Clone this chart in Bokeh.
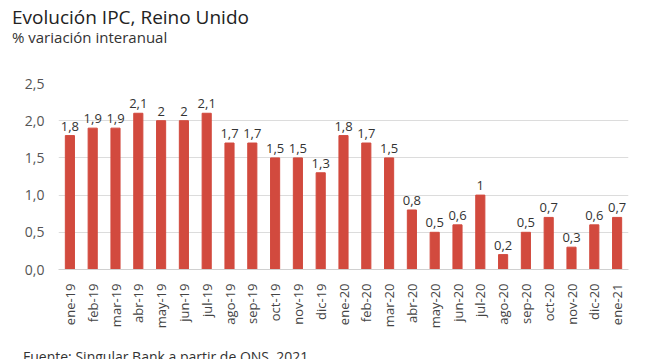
import math
from bokeh.plotting import figure
from bokeh.layouts import column
from bokeh.models import ColumnDataSource, LabelSet, FixedTicker, Range1d, FactorRange, Div
from bokeh.core.properties import value
from bokeh.embed import file_html
from bokeh.resources import INLINE

months = ["ene-19", "feb-19", "mar-19", "abr-19", "may-19", "jun-19", "jul-19", "ago-19",
          "sep-19", "oct-19", "nov-19", "dic-19", "ene-20", "feb-20", "mar-20", "abr-20",
          "may-20", "jun-20", "jul-20", "ago-20", "sep-20", "oct-20", "nov-20", "dic-20", "ene-21"]
values = [1.8, 1.9, 1.9, 2.1, 2.0, 2.0, 2.1, 1.7, 1.7, 1.5, 1.5, 1.3, 1.8, 1.7, 1.5, 0.8,
          0.5, 0.6, 1.0, 0.2, 0.5, 0.7, 0.3, 0.6, 0.7]
y_ticks = [0.0, 0.5, 1.0, 1.5, 2.0, 2.5]
y_tick_labels = ["0,0", "0,5", "1,0", "1,5", "2,0", "2,5"]
title_text = "Evolución IPC, Reino Unido"
subtitle_text = "% variación interanual"
source_text = "Fuente: Singular Bank a partir de ONS, 2021"


def fmt(v):
    return ("%g" % v).replace(".", ",")


FONT = "Open Sans"
BAR = "#d24a3e"
W = 642

# header with title and subtitle
head_html = (
    '<div style="position:relative;width:642px;height:45px;font-family:\'Open Sans\',sans-serif;">'
    '<div style="position:absolute;left:7px;top:-1px;font-size:19px;line-height:26px;'
    'color:#222222;white-space:nowrap;">' + title_text + '</div>'
    '<div style="position:absolute;left:7px;top:22px;font-size:15px;line-height:20px;'
    'color:#333333;white-space:nowrap;">' + subtitle_text + '</div>'
    '</div>'
)
head = Div(text=head_html, width=W, height=45)

# main chart
src = ColumnDataSource(dict(x=months, y=values, lab=[fmt(v) for v in values]))

p = figure(width=W, height=276, x_range=FactorRange(*months, range_padding=0),
           y_range=Range1d(0, 2.5), output_backend="svg", toolbar_location=None,
           min_border_left=58, min_border_right=14, min_border_top=28, min_border_bottom=62)
p.title = None
p.outline_line_color = None
p.background_fill_color = "white"
p.border_fill_color = "white"

p.vbar(x="x", top="y", width=0.4, source=src, color=BAR)

labels = LabelSet(x="x", y="y", text="lab", source=src, text_align="center",
                  text_baseline="bottom", y_offset=5, text_font=value(FONT),
                  text_font_size=value("13px"), text_color="#333333")
p.add_layout(labels)

p.yaxis.ticker = FixedTicker(ticks=y_ticks)
p.yaxis.major_label_overrides = {t: l for t, l in zip(y_ticks, y_tick_labels)}
p.yaxis.axis_line_color = None
p.yaxis.major_tick_line_color = None
p.yaxis.minor_tick_line_color = None
p.yaxis.major_label_text_font = FONT
p.yaxis.major_label_text_font_size = "14px"
p.yaxis.major_label_text_color = "#555555"
p.yaxis.major_label_standoff = 8

p.xaxis.axis_line_color = "#d0d0d0"
p.xaxis.major_tick_line_color = None
p.xaxis.minor_tick_line_color = None
p.xaxis.major_label_orientation = math.pi / 2
p.xaxis.major_label_text_font = FONT
p.xaxis.major_label_text_font_size = "13px"
p.xaxis.major_label_text_color = "#444444"
p.xaxis.major_label_standoff = 8

p.xgrid.grid_line_color = None
p.ygrid.grid_line_color = "#dcdcdc"

# footer with source
foot_html = (
    '<div style="position:relative;width:642px;height:30px;font-family:\'Open Sans\',sans-serif;">'
    '<div style="position:absolute;left:18px;top:11px;font-size:14px;line-height:19px;'
    'color:#333333;white-space:nowrap;">' + source_text + '</div>'
    '</div>'
)
foot = Div(text=foot_html, width=W, height=30)

layout = column(head, p, foot, spacing=0)
open("out.html", "w").write(file_html(layout, INLINE))
